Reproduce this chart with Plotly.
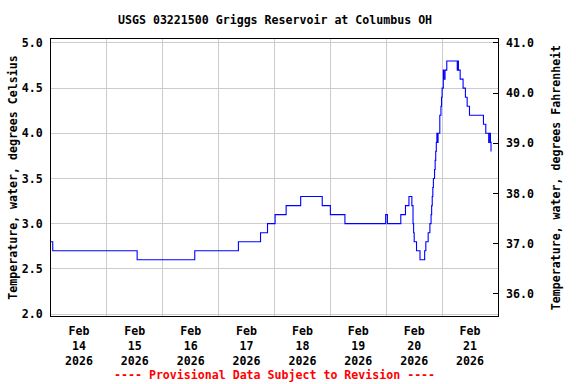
import datetime as dt
import plotly.graph_objects as go

# ---- data (hours after 2026-02-14 00:00, water temperature in deg C) ----
hours = [0, 0.75, 37.0, 61.75, 80.5, 90.0, 93.0, 96.25, 101.0, 107.25, 116.5, 120.0,
         126.25, 143.75, 144.5, 150.25, 152.25, 153.75, 155.0, 155.5, 155.75, 156.0,
         157.0, 158.5, 160.5, 161.0, 162.0, 162.75, 163.25, 163.5, 163.75, 164.0,
         164.25, 164.75, 165.0, 165.25, 165.5, 165.75, 166.0, 166.25, 167.0, 167.5,
         167.75, 168.0, 168.5, 168.75, 169.25, 170.0, 174.5, 174.75, 175.0, 175.75,
         177.0, 178.0, 178.75, 179.75, 185.75, 186.75, 188.0, 188.25, 188.75, 189.0]
temps_c = [2.8, 2.7, 2.6, 2.7, 2.8, 2.9, 3.0, 3.1, 3.2, 3.3, 3.2, 3.1,
           3.0, 3.1, 3.0, 3.1, 3.2, 3.3, 3.2, 3.0, 2.9, 2.8,
           2.7, 2.6, 2.7, 2.8, 2.9, 3.0, 3.1, 3.2, 3.3, 3.4,
           3.5, 3.6, 3.7, 3.8, 3.9, 4.0, 3.9, 4.0, 4.2, 4.3,
           4.4, 4.5, 4.7, 4.6, 4.7, 4.8, 4.7, 4.8, 4.7, 4.6,
           4.5, 4.4, 4.3, 4.2, 4.1, 4.0, 3.9, 4.0, 3.9, 3.8]
day_labels = ["Feb<br>14<br>2026", "Feb<br>15<br>2026", "Feb<br>16<br>2026", "Feb<br>17<br>2026",
              "Feb<br>18<br>2026", "Feb<br>19<br>2026", "Feb<br>20<br>2026", "Feb<br>21<br>2026"]
c_ticks = [2.0, 2.5, 3.0, 3.5, 4.0, 4.5, 5.0]
f_ticks = [36, 37, 38, 39, 40, 41]

title = "USGS 03221500 Griggs Reservoir at Columbus OH"
left_label = "Temperature, water, degrees Celsius"
right_label = "Temperature, water, degrees Fahrenheit"
footer = "---- Provisional Data Subject to Revision ----"

base = dt.datetime(2026, 2, 14)
times = [base + dt.timedelta(hours=h) for h in hours]
temps_f = [c * 1.8 + 32 for c in temps_c]
label_pos = [base + dt.timedelta(days=i, hours=12) for i in range(len(day_labels))]

FONT = "DejaVu Sans Mono"
fs = 11.6

c_range = [1.978, 5.044]
f_range = [c * 1.8 + 32 for c in c_range]


def bold_lines(s):
    return "<br>".join(f"<b>{p}</b>" for p in s.split("<br>"))


fig = go.Figure()
fig.add_trace(go.Scatter(x=times, y=temps_c, mode="lines",
                         line=dict(color="#0000ff", width=1.1, shape="hv"),
                         showlegend=False, hoverinfo="skip"))
fig.add_trace(go.Scatter(x=times, y=temps_f, mode="lines", yaxis="y2",
                         line=dict(color="rgba(0,0,0,0)", width=0, shape="hv"),
                         showlegend=False, hoverinfo="skip"))

fig.update_layout(
    width=576, height=384,
    margin=dict(l=51, r=78, t=39, b=68),
    paper_bgcolor="white", plot_bgcolor="white",
    font=dict(family=FONT, size=fs, color="black"),
    xaxis=dict(
        range=[base, base + dt.timedelta(days=8)], automargin=False,
        tickmode="array", tickvals=label_pos, ticktext=[bold_lines(t) for t in day_labels],
        showgrid=False, ticks="", showline=True, linecolor="black", linewidth=1, mirror=True,
        minor=dict(dtick=86400000, tick0=base, showgrid=True, gridcolor="#cccccc", gridwidth=1, ticks=""),
        zeroline=False, tickfont=dict(family=FONT, size=fs), ticklabelstandoff=4,
    ),
    yaxis=dict(
        range=c_range, tickmode="array", tickvals=c_ticks, automargin=False,
        ticktext=[f"<b>{v:.1f}</b>" for v in c_ticks],
        showgrid=True, gridcolor="#cccccc", gridwidth=1,
        showline=True, linecolor="black", linewidth=1, mirror=True, ticks="",
        zeroline=False, ticklabelstandoff=5,
        title=dict(text=f"<b>{left_label}</b>", font=dict(family=FONT, size=fs), standoff=1),
    ),
    yaxis2=dict(
        range=f_range, overlaying="y", side="right", tickmode="array", tickvals=f_ticks,
        ticktext=[f"<b>{v:.1f}</b>" for v in f_ticks], automargin=False,
        showgrid=False, ticks="inside", ticklen=5, tickcolor="black",
        zeroline=False, showline=False, ticklabelstandoff=7,
        title=dict(text=f"<b>{right_label}</b>", font=dict(family=FONT, size=fs), standoff=18),
    ),
    annotations=[
        dict(text=f"<b>{title}</b>", xref="paper", yref="paper", x=0.5, y=1, yshift=19,
             yanchor="middle", showarrow=False, font=dict(family=FONT, size=fs, color="black")),
        dict(text=f"<b>{footer}</b>", xref="paper", yref="paper", x=0.5, y=0, yshift=-59,
             yanchor="middle", showarrow=False, font=dict(family=FONT, size=fs, color="red")),
    ],
)

fig.write_html("out.html", config={"displayModeBar": False},
               post_script="document.body.style.margin='0px';document.body.style.padding='0px';")
